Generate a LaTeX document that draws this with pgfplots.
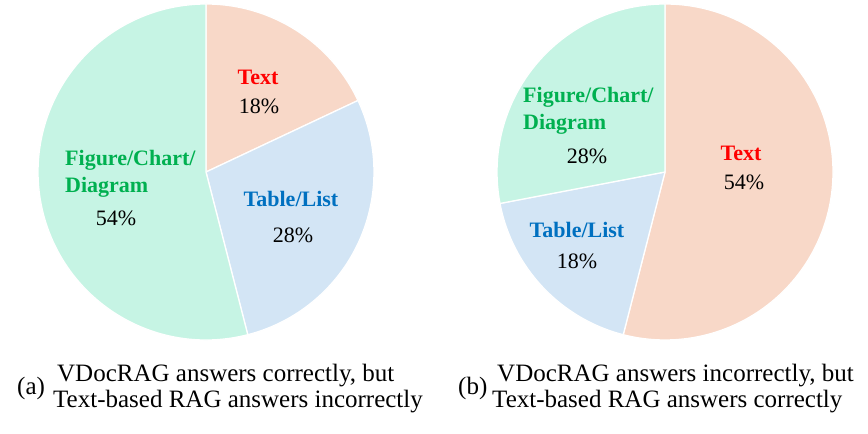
\documentclass[border=0pt]{standalone}
\usepackage{pgfplots}
\pgfplotsset{compat=1.18}
\usepackage{fontspec}
\setmainfont{Liberation Serif}

\definecolor{cText}{HTML}{F8D8C8}
\definecolor{cTable}{HTML}{D3E5F5}
\definecolor{cFig}{HTML}{C6F4E4}
\definecolor{lText}{HTML}{FF0000}
\definecolor{lTable}{HTML}{0070C0}
\definecolor{lFig}{HTML}{00B050}

% slice: #1 cumulative share before it (%), #2 share (%), #3 colour
\newcommand\slice[3]{%
  \fill[#3,draw=white,line width=1.3pt,line join=round]
    (axis cs:0,0) -- (axis cs:{cos(90-3.6*#1)},{sin(90-3.6*#1)})
    arc[start angle={90-3.6*#1},end angle={90-3.6*(#1+#2)},radius=168bp] -- cycle;}

\pgfplotsset{pie/.style={x=168bp,y=168bp,xmin=-1,xmax=1,ymin=-1,ymax=1,
  hide axis,clip=false,anchor=center}}

\begin{document}
\begin{tikzpicture}[x=1bp,y=1bp]
\useasboundingbox (0,0) rectangle (868,434);
\tikzset{lab/.style={font=\fontsize{22bp}{24bp}\selectfont\bfseries,inner sep=0pt},
  pct/.style={font=\fontsize{22bp}{24bp}\selectfont,inner sep=0pt},
  capt/.style={font=\fontsize{25bp}{24bp}\selectfont,inner sep=0pt}}

% (a): Text 18, Table/List 28, Figure/Chart/Diagram 54
\begin{axis}[pie,at={(206bp,262bp)}]
\slice{0}{18}{cText}
\slice{18}{28}{cTable}
\slice{46}{54}{cFig}
\end{axis}

% (b): Text 54, Table/List 18, Figure/Chart/Diagram 28
\begin{axis}[pie,at={(665bp,262bp)}]
\slice{0}{54}{cText}
\slice{54}{18}{cTable}
\slice{72}{28}{cFig}
\end{axis}

% labels, pixel coordinates (y up)
\node[lab,text=lText,anchor=base] at (258,434-85) {Text};
\node[pct,anchor=base] at (259,434-114) {18\%};
\node[lab,text=lTable,anchor=base] at (291,434-207) {Table/List};
\node[pct,anchor=base] at (293,434-243) {28\%};
\node[lab,text=lFig,anchor=base west] at (65,434-166) {Figure/Chart/};
\node[lab,text=lFig,anchor=base west] at (65,434-193) {Diagram};
\node[pct,anchor=base] at (116,434-226) {54\%};

\node[lab,text=lText,anchor=base] at (741,434-161) {Text};
\node[pct,anchor=base] at (744,434-190) {54\%};
\node[lab,text=lTable,anchor=base] at (577,434-238) {Table/List};
\node[pct,anchor=base] at (577,434-269) {18\%};
\node[lab,text=lFig,anchor=base west] at (523,434-103) {Figure/Chart/};
\node[lab,text=lFig,anchor=base west] at (523,434-130) {Diagram};
\node[pct,anchor=base] at (587,434-164) {28\%};

% captions
\node[capt,anchor=base west] at (17,434-395) {(a)};
\node[capt,anchor=base west] at (57,434-382) {VDocRAG answers correctly, but};
\node[capt,anchor=base west] at (53,434-408) {Text-based RAG answers incorrectly};
\node[capt,anchor=base west] at (458,434-395) {(b)};
\node[capt,anchor=base west] at (497,434-382) {VDocRAG answers incorrectly, but};
\node[capt,anchor=base west] at (492,434-408) {Text-based RAG answers correctly};
\end{tikzpicture}
\end{document}
